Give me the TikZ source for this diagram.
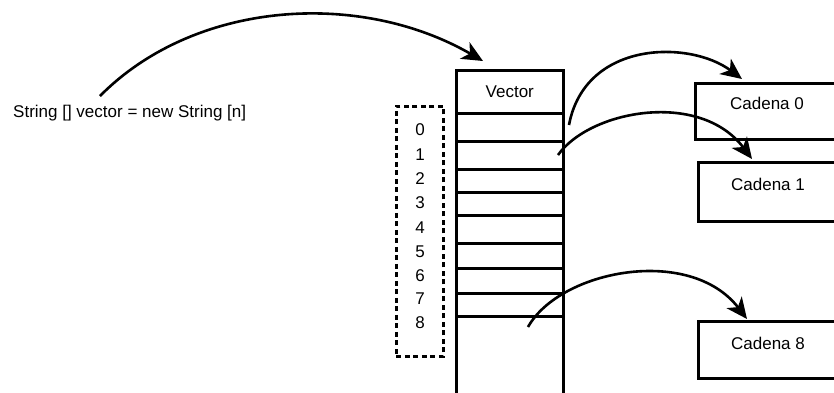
\documentclass[tikz,border=0pt]{standalone}
\usepackage{fontspec}
\setmainfont{Liberation Sans}
\usetikzlibrary{arrows.meta,calc}
\begin{document}
\begin{tikzpicture}[x=1pt,y=-1pt,
  cell/.style={draw,line width=2.6pt,anchor=north west,inner sep=0pt,minimum width=107pt},
  strbox/.style={draw,line width=2.6pt,anchor=north west,inner sep=0pt,minimum width=146pt},
  lbl/.style={font=\fontsize{17}{19}\selectfont,inner sep=0pt},
  ptr/.style={line width=2.6pt,-{Stealth[length=21pt,width=19pt,inset=6pt]}}]
\useasboundingbox[fill=white] (0,0) rectangle (834,392);
% vector column
\node[cell,minimum height=43pt,font=\fontsize{17}{19}\selectfont] (vh) at (455,69) {Vector};
\node[cell,minimum height=28pt] (c0) at (455,112) {};
\node[cell,minimum height=28pt] (c1) at (455,140) {};
\node[cell,minimum height=23pt] (c2) at (455,168) {};
\node[cell,minimum height=23pt] (c3) at (455,191) {};
\node[cell,minimum height=28pt] (c4) at (455,214) {};
\node[cell,minimum height=25pt] (c5) at (455,242) {};
\node[cell,minimum height=25pt] (c6) at (455,267) {};
\node[cell,minimum height=23pt] (c7) at (455,292) {};
\node[cell,minimum height=85pt] (c8) at (455,315) {};
% index box
\node[draw,line width=2.8pt,dash pattern=on 5pt off 3.5pt,anchor=north west,inner sep=0pt,
      minimum width=47pt,minimum height=250pt] (idx) at (395,105) {};
\node[lbl] (n0) at (420,130) {0};
\node[lbl] (n1) at (420,155) {1};
\node[lbl] (n2) at (420,179) {2};
\node[lbl] (n3) at (420,203) {3};
\node[lbl] (n4) at (420,228) {4};
\node[lbl] (n5) at (420,252) {5};
\node[lbl] (n6) at (420,276) {6};
\node[lbl] (n7) at (420,299) {7};
\node[lbl] (n8) at (420,323) {8};
% string boxes
\node[strbox,minimum height=56pt] (cad0) at (694,82) {};
\node[strbox,minimum height=59pt] (cad1) at (697,161) {};
\node[strbox,minimum height=57pt] (cad8) at (697,320) {};
\node[lbl] (t0) at (767,103) {Cadena 0};
\node[lbl] (t1) at (768,184) {Cadena 1};
\node[lbl] (t8) at (768,343) {Cadena 8};
% declaration
\node[lbl,anchor=west] (decl) at (13,113) {String [] vector = new String [n]};
% arrows
\coordinate (s1) at (100,96);
\coordinate (e1) at (483,61);
\coordinate (s2) at (569,125);
\coordinate (e2) at (742,79);
\coordinate (s3) at (558,155);
\coordinate (e3) at (752,159);
\coordinate (s4) at (528,327);
\coordinate (e4) at (747,319);
\draw[ptr] (s1) .. controls (195,0) and (360,-10) .. (e1);
\draw[ptr] (s2) .. controls (585,40) and (690,40) .. (e2);
\draw[ptr] (s3) .. controls (590,110) and (700,90) .. (e3);
\draw[ptr] (s4) .. controls (560,270) and (690,245) .. (e4);
\end{tikzpicture}
\end{document}
